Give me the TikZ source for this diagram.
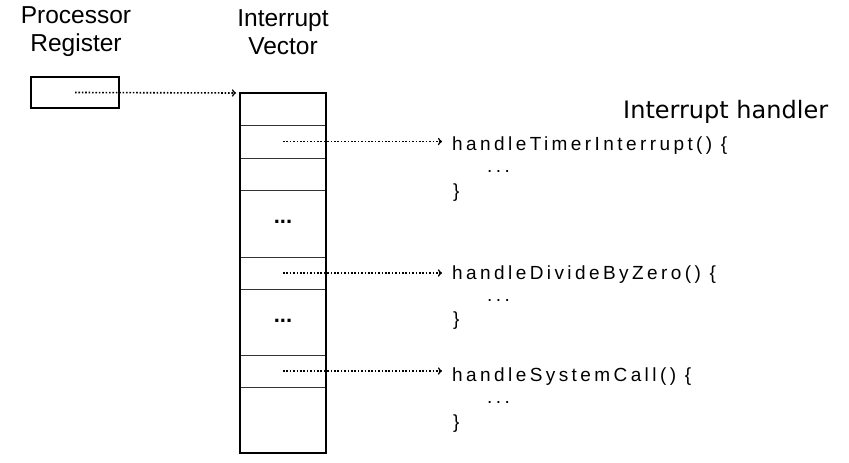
\documentclass[tikz,border=0pt]{standalone}
\usepackage{fontspec}
\setmainfont{Liberation Sans}
\newfontfamily\handlerfont{DejaVu Sans}
\newfontfamily\codefont[LetterSpace=18]{Liberation Sans}

\begin{document}
\begin{tikzpicture}[x=1pt, y=-1pt,
    cell/.style={draw=black!80, line width=0.8pt, minimum width=86pt, inner sep=0pt, outer sep=0pt},
    title/.style={align=center, font=\fontsize{24.5}{28}\selectfont},
    code/.style={anchor=base west, inner sep=0pt, font=\codefont\fontsize{19}{19}\selectfont},
    gapdots/.style={anchor=base, inner sep=0pt, font=\bfseries\fontsize{22}{22}\selectfont},
    link/.style={->, dash pattern=on 1.6pt off 1.8pt, line width=1.6pt}]
\useasboundingbox (0,0) rectangle (849,463);

% titles
\node[title] (regtitle) at (76,32) {Processor\\Register};
\node[title] (vectitle) at (283,32) {Interrupt\\Vector};
\node[anchor=base west, inner sep=0pt, font=\handlerfont\fontsize{24}{28}\selectfont] (hdltitle) at (623,118) {Interrupt handler};

% processor register
\node[draw, line width=1.2pt, minimum width=88pt, minimum height=31pt, inner sep=0pt] (reg) at (75,92.5) {};

% interrupt vector
\foreach \i/\t/\b in {0/93/125, 1/125/158, 2/158/190, 3/190/257, 4/257/289, 5/289/355, 6/355/387, 7/387/453}
  \node[cell, minimum height={(\b-\t)*1pt}] (c\i) at (283,{(\t+\b)/2}) {};
\draw[line width=1.6pt] (c0.north west) rectangle (c7.south east);

\node[gapdots] (gap1) at (c3.center) {...};
\node[gapdots] (gap2) at (c5.center) {...};

% handlers
\node[code] (tmr) at (452,150) {handleTimerInterrupt() \{};
\node[code] (tmrdots) at (487,172) {...};
\node[code] (tmrend) at (453,197) {\}};

\node[code] (div) at (452,279) {handleDivideByZero() \{};
\node[code] (divdots) at (487,301) {...};
\node[code] (divend) at (453,325) {\}};

\node[code] (sys) at (452,381) {handleSystemCall() \{};
\node[code] (sysdots) at (487,403) {...};
\node[code] (sysend) at (453,428) {\}};

% pointers
\draw[link] (reg.center) -- ([xshift=-4pt]c0.north west);
\draw[link, shorten >=10pt] (c1.center) -- (c1.center -| tmr.west);
\draw[link, shorten >=10pt] (c4.center) -- (c4.center -| div.west);
\draw[link, shorten >=10pt] (c6.center) -- (c6.center -| sys.west);

\end{tikzpicture}
\end{document}
